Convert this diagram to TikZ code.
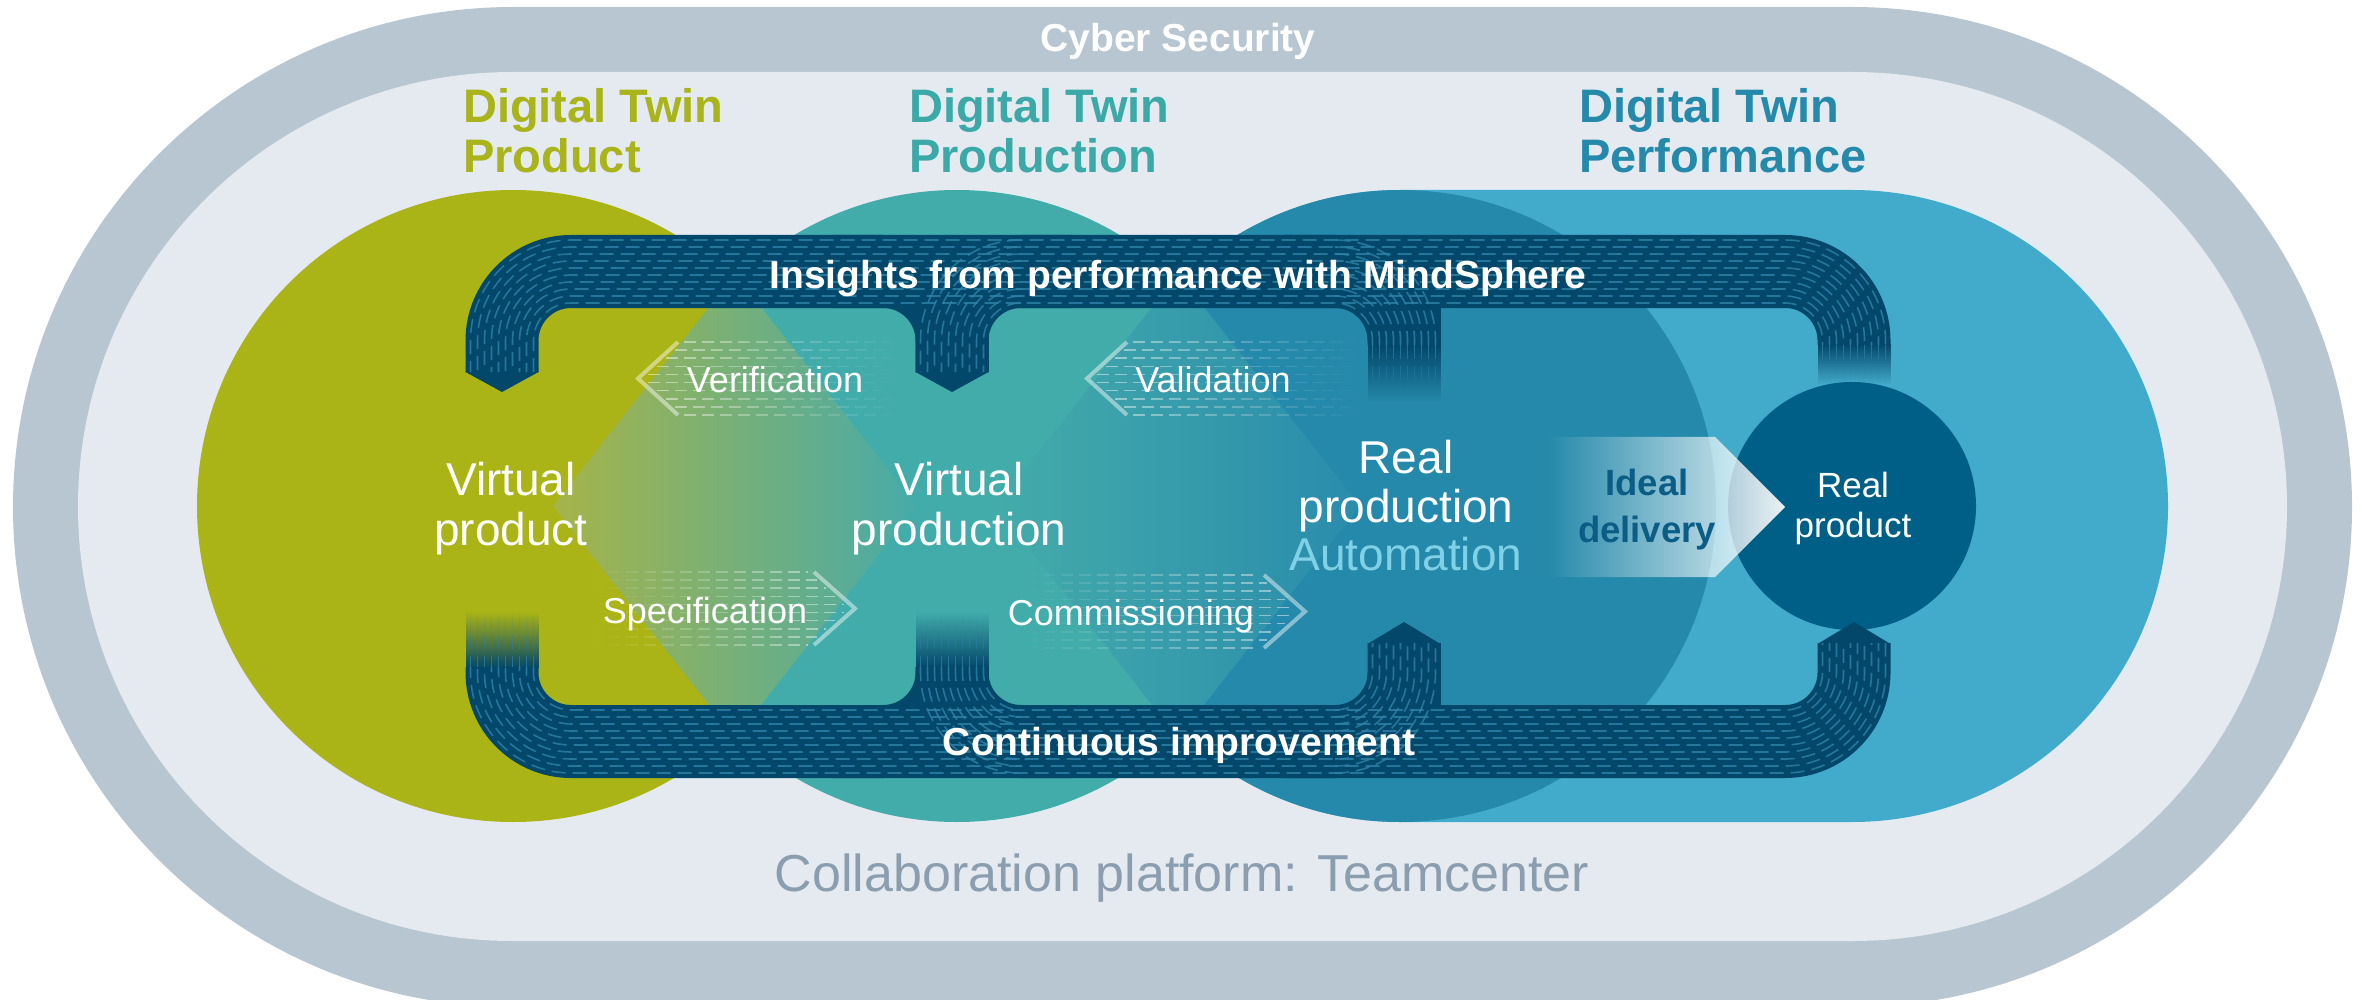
\documentclass[tikz,border=0pt]{standalone}
\usepackage{fontspec}
\setmainfont{Liberation Sans}
\usetikzlibrary{fadings}
\definecolor{outerg}{HTML}{B8C6D1}
\definecolor{innerg}{HTML}{E4EAEF}
\definecolor{cgreen}{HTML}{AAB416}
\definecolor{cteal}{HTML}{42ACAB}
\definecolor{cblue}{HTML}{2589AB}
\definecolor{clight}{HTML}{42AACA}
\definecolor{cdark}{HTML}{005F87}
\definecolor{navy}{HTML}{03476A}
\definecolor{stripe}{HTML}{2E82A8}
\definecolor{tgreen}{HTML}{A9B31A}
\definecolor{tteal}{HTML}{3AA9A8}
\definecolor{tblue}{HTML}{2489AB}
\definecolor{autoc}{HTML}{80D0E6}
\definecolor{idealc}{HTML}{0B5D86}
\definecolor{collab}{HTML}{8B9EAF}
\definecolor{rhL}{HTML}{A6B449}
\definecolor{rhM}{HTML}{8BB07A}
\definecolor{rhR}{HTML}{47ABA9}
\definecolor{rhbL}{HTML}{44ABAA}
\definecolor{rhbM}{HTML}{369EAC}
\definecolor{rhbR}{HTML}{2A8CAC}
\tikzfading[name=fadeToBottom, top color=transparent!0, bottom color=transparent!100]
\tikzfading[name=fadeToTop, top color=transparent!100, bottom color=transparent!0]
\tikzfading[name=fadeToRight, left color=transparent!0, right color=transparent!100]
\tikzfading[name=fadeToLeft, left color=transparent!100, right color=transparent!0]
\tikzfading[name=arrowFade, left color=transparent!100, right color=transparent!8]
\tikzset{
  band/.style={navy, line width=73pt},
  stripeline/.style={stripe, line width=1.6pt, dash pattern=on 14pt off 7pt, opacity=0.8},
  chevedge/.style={white, opacity=0.45, line width=4pt},
  chevline/.style={white, opacity=0.5, line width=1.6pt, dash pattern=on 12pt off 6pt},
  twintitle/.style={font=\fontsize{47pt}{50pt}\selectfont\bfseries, anchor=base west, inner sep=0pt},
  bigtext/.style={font=\fontsize{46pt}{50pt}\selectfont, anchor=base, inner sep=0pt, text=white},
  bandtext/.style={font=\fontsize{39pt}{42pt}\selectfont\bfseries, anchor=base, inner sep=0pt, text=white},
  chevtext/.style={font=\fontsize{36pt}{40pt}\selectfont, anchor=base, inner sep=0pt, text=white},
}
\begin{document}
\begin{tikzpicture}[x=1pt, y=-1pt]
\useasboundingbox (0,0) rectangle (2360,1000);
\clip (0,0) rectangle (2360,1000);
% platforms
\fill[outerg, rounded corners=500pt] (13,7) rectangle (2352,1007);
\fill[innerg, rounded corners=434.5pt] (78,72) rectangle (2287,941);
\fill[clight, rounded corners=316pt] (1084,190) rectangle (2168,822);
\fill[cblue] (1400,506) circle[radius=316pt];
\fill[cteal] (957,506) circle[radius=316pt];
\fill[cgreen] (513,506) circle[radius=316pt];
\shade[left color=rhL, middle color=rhM, right color=rhR] (553,506) -- (735,274) -- (917,506) -- (735,738) -- cycle;
\shade[left color=rhbL, middle color=rhbM, right color=rhbR] (996,506) -- (1178,274) -- (1360,506) -- (1178,738) -- cycle;
\fill[cdark] (1852,506) circle[radius=124pt];

% chevrons
\draw[chevline, path fading=fadeToRight] foreach \k in {0,...,9} { ({638+40*abs(342+73*\k/9-378.5)/36.5+6}, {342+73*\k/9}) -- (900, {342+73*\k/9}) };
\draw[chevedge] (678,342) -- (638,378.5) -- (678,415);
\draw[chevline, path fading=fadeToRight] foreach \k in {0,...,9} { ({1087+40*abs(342+73*\k/9-378.5)/36.5+6}, {342+73*\k/9}) -- (1360, {342+73*\k/9}) };
\draw[chevedge] (1127,342) -- (1087,378.5) -- (1127,415);
\draw[chevline, path fading=fadeToLeft] foreach \k in {0,...,9} { (590, {572+73*\k/9}) -- ({855-41*abs(572+73*\k/9-608.5)/36.5-6}, {572+73*\k/9}) };
\draw[chevedge] (814,572) -- (855,608.5) -- (814,645);
\draw[chevline, path fading=fadeToLeft] foreach \k in {0,...,9} { (1025, {575+73*\k/9}) -- ({1305-41*abs(575+73*\k/9-611.5)/36.5-6}, {575+73*\k/9}) };
\draw[chevedge] (1264,575) -- (1305,611.5) -- (1264,648);

% top band
\draw[band, rounded corners=69pt] (502,372) -- (502,271.5) -- (1854,271.5) -- (1854,345);
\draw[band, rounded corners=69pt] (832,271.5) -- (952,271.5) -- (952,372);
\draw[band, rounded corners=69pt] (1072,271.5) -- (952,271.5) -- (952,372);
\fill[navy] (915.5,300) rectangle (988.5,372);
\draw[band, rounded corners=69pt] (1284,271.5) -- (1404,271.5) -- (1404,345);
\fill[navy] (1367.5,300) rectangle (1440.5,345);
\fill[navy] (465.5,371) -- (538.5,371) -- (538.5,372) -- (502,392) -- (465.5,372) -- cycle;
\fill[navy] (915.5,371) -- (988.5,371) -- (988.5,372) -- (952,392) -- (915.5,372) -- cycle;
\fill[navy, path fading=fadeToBottom] (1367.5,344) rectangle (1440.5,402);
\fill[navy, path fading=fadeToBottom] (1817.5,344) rectangle (1890.5,384);
% bottom band
\draw[band, rounded corners=69pt] (502,667) -- (502,741.5) -- (1854,741.5) -- (1854,643);
\draw[band, rounded corners=69pt] (832,741.5) -- (952,741.5) -- (952,667);
\draw[band, rounded corners=69pt] (1072,741.5) -- (952,741.5) -- (952,667);
\fill[navy] (915.5,667) rectangle (988.5,720);
\draw[band, rounded corners=69pt] (1284,741.5) -- (1404,741.5) -- (1404,643);
\fill[navy] (1367.5,643) rectangle (1440.5,720);
\fill[navy] (1367.5,644) -- (1404,622) -- (1440.5,644) -- cycle;
\fill[navy] (1817.5,644) -- (1854,622) -- (1890.5,644) -- cycle;
\fill[navy, path fading=fadeToTop] (465.5,612) rectangle (538.5,668);
\fill[navy, path fading=fadeToTop] (915.5,612) rectangle (988.5,668);

% stripes
\foreach \k in {0,...,9}{
  \pgfmathsetmacro\dd{-31.5+7*\k}
  \pgfmathsetmacro\rr{69+\dd}
  \pgfmathsetmacro\xl{502-(\dd)}
  \pgfmathsetmacro\xr{1854+\dd}
  \pgfmathsetmacro\yt{271.5-(\dd)}
  \pgfmathsetmacro\yb{741.5+\dd}
  \pgfmathsetmacro\ph{5*\k}
  \draw[stripeline, rounded corners=\rr pt, dash phase=\ph pt] (\xl,372) -- (\xl,\yt) -- (\xr,\yt) -- (\xr,345);
  \draw[stripeline, rounded corners=\rr pt, dash phase=\ph pt] (\xl,667) -- (\xl,\yb) -- (\xr,\yb) -- (\xr,643);
  \pgfmathsetmacro\re{69-(\dd)}
  \pgfmathsetmacro\xa{952+\dd}
  \pgfmathsetmacro\ya{271.5+\dd}
  \pgfmathsetmacro\xb{1404-(\dd)}
  \pgfmathsetmacro\yc{741.5-(\dd)}
  \draw[stripeline, rounded corners=\re pt] (1021,\ya) -- (\xa,\ya) -- (\xa,372);
  \draw[stripeline, rounded corners=\re pt] (\xb,345) -- (\xb,\ya) -- (1335,\ya);
  \draw[stripeline, rounded corners=\re pt] (\xa,667) -- (\xa,\yc) -- (1021,\yc);
  \draw[stripeline, rounded corners=\re pt] (1335,\yc) -- (\xb,\yc) -- (\xb,643);
}
\draw[stripeline, path fading=fadeToBottom] foreach \k in {0,...,9} { ({1372.5+7*\k},345) -- ({1372.5+7*\k},400) };
\draw[stripeline, path fading=fadeToBottom] foreach \k in {0,...,9} { ({1822.5+7*\k},345) -- ({1822.5+7*\k},382) };
\draw[stripeline, path fading=fadeToTop] foreach \k in {0,...,9} { ({470.5+7*\k},614) -- ({470.5+7*\k},667) };
\draw[stripeline, path fading=fadeToTop] foreach \k in {0,...,9} { ({920.5+7*\k},614) -- ({920.5+7*\k},667) };

% ideal delivery arrow
\fill[white, path fading=arrowFade] (1547,437) -- (1715,437) -- (1785,507) -- (1715,577) -- (1547,577) -- cycle;

% texts
\node[font=\fontsize{39pt}{42pt}\selectfont\bfseries, text=white, anchor=base, inner sep=0pt] (cyber) at (1178,52) {Cyber Security};
\node[twintitle, text=tgreen] (dtp1) at (463,123) {Digital Twin};
\node[twintitle, text=tgreen] (dtp2) at (463,173) {Product};
\node[twintitle, text=tteal] (dtq1) at (909,123) {Digital Twin};
\node[twintitle, text=tteal] (dtq2) at (909,173) {Production};
\node[twintitle, text=tblue] (dtr1) at (1579,123) {Digital Twin};
\node[twintitle, text=tblue] (dtr2) at (1579,173) {Performance};
\node[bandtext] (insights) at (1178,288) {Insights from performance with MindSphere};
\node[bandtext] (contimp) at (1179,755) {Continuous improvement};
\node[chevtext] (verif) at (775,392) {Verification};
\node[chevtext] (valid) at (1213,392) {Validation};
\node[chevtext] (spec) at (705,623) {Specification};
\node[chevtext] (comm) at (1131,625) {Commissioning};
\node[bigtext] (vp1) at (511,495) {Virtual};
\node[bigtext] (vp2) at (511,545) {product};
\node[bigtext] (vq1) at (959,495) {Virtual};
\node[bigtext] (vq2) at (959,545) {production};
\node[bigtext] (rp1) at (1406,473) {Real};
\node[bigtext] (rp2) at (1406,522) {production};
\node[bigtext, text=autoc] (rp3) at (1406,570) {Automation};
\node[font=\fontsize{36.5pt}{40pt}\selectfont\bfseries, text=idealc, anchor=base, inner sep=0pt] (ideal1) at (1647,495) {Ideal};
\node[font=\fontsize{36.5pt}{40pt}\selectfont\bfseries, text=idealc, anchor=base, inner sep=0pt] (ideal2) at (1647,542) {delivery};
\node[font=\fontsize{35pt}{40pt}\selectfont, text=white, anchor=base, inner sep=0pt] (rprod1) at (1853,497) {Real};
\node[font=\fontsize{35pt}{40pt}\selectfont, text=white, anchor=base, inner sep=0pt] (rprod2) at (1853,537) {product};
\node[font=\fontsize{52pt}{56pt}\selectfont, text=collab, anchor=base, inner sep=0pt] (collabt) at (1182,891) {Collaboration platform: Teamcenter};
\end{tikzpicture}
\end{document}
